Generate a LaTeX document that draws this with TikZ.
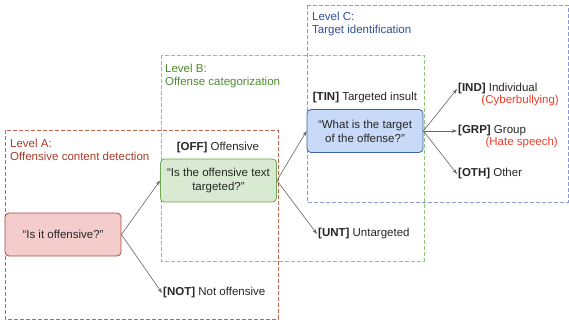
\documentclass[tikz,border=0pt]{standalone}
\usepackage{fontspec}
\setmainfont{Liberation Sans}
\usetikzlibrary{arrows.meta}
\definecolor{redfill}{HTML}{F4CCCC}
\definecolor{reddraw}{HTML}{B0483E}
\definecolor{greenfill}{HTML}{D9EAD3}
\definecolor{greendraw}{HTML}{6AA84F}
\definecolor{bluefill}{HTML}{C9DAF8}
\definecolor{bluedraw}{HTML}{3D5FA8}
\definecolor{redlevel}{HTML}{C0634F}
\definecolor{greenlevel}{HTML}{93C47D}
\definecolor{bluelevel}{HTML}{8E9AD2}
\definecolor{redtext}{HTML}{A93A2A}
\definecolor{greentext}{HTML}{4E8A2E}
\definecolor{bluetext}{HTML}{2E4E96}
\definecolor{hateRed}{HTML}{F03C2C}
\begin{document}
\begin{tikzpicture}[x=1pt,y=-1pt,font=\fontsize{11.5}{14}\selectfont,text=black!85,
	question/.style={draw,rounded corners=4pt,line width=0.8pt,minimum width=116pt,minimum height=43pt,align=center,inner sep=2pt},
	level/.style={dash pattern=on 4pt off 2pt,line width=0.6pt},
	leveltext/.style={anchor=north west,align=left,inner sep=0pt,font=\fontsize{11.5}{13.5}\selectfont},
	answer/.style={anchor=west,inner sep=1pt},
	note/.style={anchor=east,inner sep=0pt,text=hateRed},
	arr/.style={-{Stealth[length=5pt,width=3.5pt]},draw=black!60,line width=0.6pt}]
		\useasboundingbox (0,0) rectangle (569,325);
		% levels
		\draw[level,draw=redlevel] (5,130) rectangle (278,319);
		\draw[level,draw=greenlevel] (161,55) rectangle (424,261);
		\draw[level,draw=bluelevel] (307,5) rectangle (568,202);
		\node[leveltext,text=redtext] (levA) at (10,138.5) {Level A:\\Offensive content detection};
		\node[leveltext,text=greentext] (levB) at (165,63.5) {Level B:\\Offense categorization};
		\node[leveltext,text=bluetext] (levC) at (312,11.5) {Level C:\\Target identification};
		% questions
		\node[question,fill=redfill,draw=reddraw] (qA) at (63,234.5) {“Is it offensive?”};
		\node[question,fill=greenfill,draw=greendraw] (qB) at (218.5,180.5) {“Is the offensive text\\targeted?”};
		\node[question,fill=bluefill,draw=bluedraw] (qC) at (365,131) {“What is the target\\of the offense?”};
		% answers
		\node (off) at (218,148) {\textbf{[OFF]} Offensive};
		\node (tin) at (365,98) {\textbf{[TIN]} Targeted insult};
		\node[answer] (not) at (162,293) {\textbf{[NOT]} Not offensive};
		\node[answer] (unt) at (317,234) {\textbf{[UNT]} Untargeted};
		\node[answer] (ind) at (457,89) {\textbf{[IND]} Individual};
		\node[answer] (grp) at (457,131) {\textbf{[GRP]} Group};
		\node[answer] (oth) at (457,174) {\textbf{[OTH]} Other};
		\node[note] (cyb) at (559,101) {(Cyberbullying)};
		\node[note] (hate) at (558,143) {(Hate speech)};
		% arrows
		\draw[arr] (qA.east) -- (qB.west);
		\draw[arr] (qA.east) -- (not.west);
		\draw[arr] (qB.east) -- (qC.west);
		\draw[arr] (qB.east) -- (unt.west);
		\foreach \n in {ind,grp,oth}
		{
			\draw[arr] (qC.east) -- (\n.west);
		}
\end{tikzpicture}
\end{document}
